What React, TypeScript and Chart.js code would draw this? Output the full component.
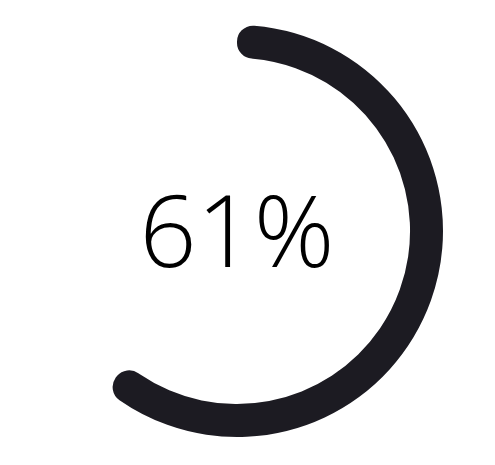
import React, { useEffect, useRef } from "react";
import { Chart, registerables } from "chart.js";

Chart.register(...registerables);

const labels = ["Done", "Remaining"];
const values = [61, 39];
const centerText = "61%";

export default function App() {
  const ref = useRef<HTMLCanvasElement>(null);
  useEffect(() => {
    if (!ref.current) return;
    const textPlugin = {
      id: "centerText",
      afterDraw(chart: any) {
        const { ctx } = chart;
        const meta = chart.getDatasetMeta(0);
        const arc = meta.data[0];
        if (!arc) return;
        ctx.save();
        ctx.font = "300 100px 'Open Sans'";
        ctx.fillStyle = "#000000";
        ctx.textAlign = "center";
        ctx.textBaseline = "middle";
        ctx.fillText(centerText, arc.x, arc.y + 8);
        ctx.restore();
      },
    };
    const chart = new Chart(ref.current, {
      type: "doughnut",
      data: {
        labels,
        datasets: [
          {
            data: values,
            backgroundColor: ["#1c1b22", "rgba(0,0,0,0)"],
            borderWidth: 0,
            borderRadius: [16, 0] as any,
          },
        ],
      },
      options: {
        animation: false,
        responsive: false,
        cutout: "84%",
        layout: { padding: 17 },
        plugins: { legend: { display: false }, tooltip: { enabled: false } },
      },
      plugins: [textPlugin],
    });
    return () => chart.destroy();
  }, []);
  return (
    <div style={{ width: 458, height: 446 }}>
      <canvas ref={ref} width={458} height={446} />
    </div>
  );
}
